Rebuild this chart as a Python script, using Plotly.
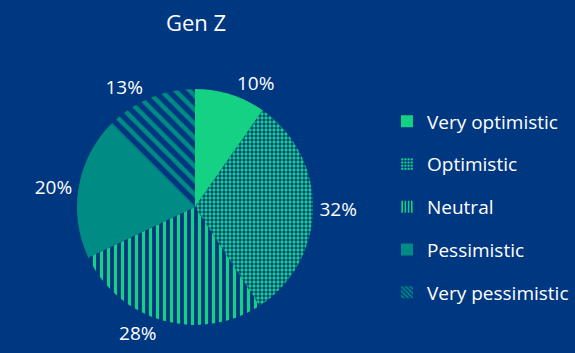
import plotly.graph_objects as go

# Survey answers, Gen Z
categories = ["Very optimistic", "Optimistic", "Neutral", "Pessimistic", "Very pessimistic"]
shares = [10, 32, 28, 20, 13]
title_text = "Gen Z"

BG = "#003781"
GREEN = "#14D184"
TEAL = "#008C84"
slice_colors = [GREEN, GREEN, GREEN, TEAL, TEAL]
slice_shapes = ["", ".", "|", "", "\\"]
pattern_size = [8, 4, 7, 8, 10]
pattern_solid = [0.5, 0.55, 0.45, 0.5, 0.45]

FONT = "Open Sans"

fig = go.Figure()

fig.add_trace(go.Pie(
    labels=categories,
    values=shares,
    sort=False,
    direction="clockwise",
    rotation=0,
    texttemplate="%{value}%",
    textposition="outside",
    textfont=dict(color="white", size=19, family=FONT),
    marker=dict(
        colors=slice_colors,
        line=dict(width=0),
        pattern=dict(
            shape=slice_shapes,
            size=pattern_size,
            solidity=pattern_solid,
            bgcolor=BG,
            fillmode="replace",
        ),
    ),
    domain=dict(x=[0.1339, 0.5443], y=[0.0793, 0.7479]),
    showlegend=False,
    hoverinfo="label+value",
))

# legend entries, one per category, so the rows can be spaced apart
for i, name in enumerate(categories):
    fig.add_trace(go.Bar(
        x=[None], y=[None],
        name=name,
        legendgroup=name,
        marker=dict(
            color=slice_colors[i],
            line=dict(width=0),
            pattern=dict(
                shape=slice_shapes[i],
                size=4 if slice_shapes[i] else 8,
                solidity=0.5,
                bgcolor=BG,
                fillmode="replace",
            ),
        ),
        showlegend=True,
    ))

fig.update_layout(
    width=575, height=353,
    margin=dict(l=0, r=0, t=0, b=0),
    paper_bgcolor=BG,
    plot_bgcolor=BG,
    xaxis=dict(visible=False),
    yaxis=dict(visible=False),
    font=dict(family=FONT, color="white", size=16),
    legend=dict(
        x=0.673, y=1 - 207 / 353, xanchor="left", yanchor="middle",
        font=dict(size=19, color="white", family=FONT),
        tracegroupgap=15,
        traceorder="grouped",
        bgcolor="rgba(0,0,0,0)",
    ),
    annotations=[dict(
        text=title_text, x=196 / 575, y=1 - 22 / 353,
        xref="paper", yref="paper", showarrow=False,
        font=dict(size=22, color="white", family=FONT),
        xanchor="center", yanchor="middle",
    )],
)

fig.write_html("out.html")
